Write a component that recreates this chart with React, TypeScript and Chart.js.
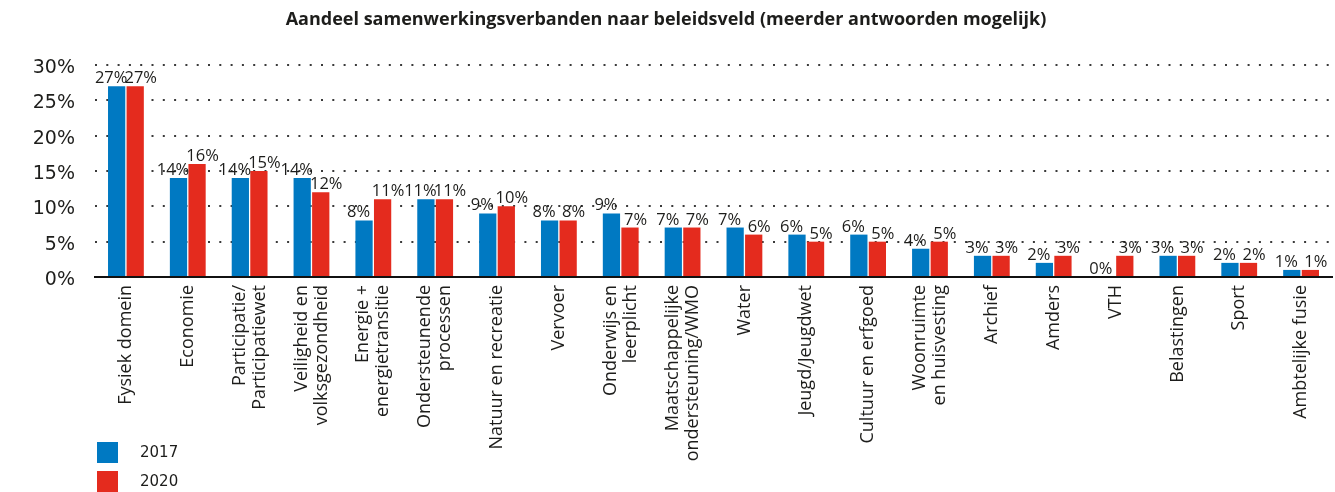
import { useEffect, useRef } from "react";
import { Chart, registerables } from "chart.js";

Chart.register(...registerables);

const title = "Aandeel samenwerkingsverbanden naar beleidsveld (meerder antwoorden mogelijk)";

const categories: string[][] = [
  ["Fysiek domein"],
  ["Economie"],
  ["Participatie/", "Participatiewet"],
  ["Veiligheid en", "volksgezondheid"],
  ["Energie +", "energietransitie"],
  ["Ondersteunende", "processen"],
  ["Natuur en recreatie"],
  ["Vervoer"],
  ["Onderwijs en", "leerplicht"],
  ["Maatschappelijke", "ondersteuning/WMO"],
  ["Water"],
  ["Jeugd/Jeugdwet"],
  ["Cultuur en erfgoed"],
  ["Woonruimte", "en huisvesting"],
  ["Archief"],
  ["Amders"],
  ["VTH"],
  ["Belastingen"],
  ["Sport"],
  ["Ambtelijke fusie"],
];

const seriesNames = ["2017", "2020"];
const values2017 = [27, 14, 14, 14, 8, 11, 9, 8, 9, 7, 7, 6, 6, 4, 3, 2, 0, 3, 2, 1];
const values2020 = [27, 16, 15, 12, 11, 11, 10, 8, 7, 7, 6, 5, 5, 5, 3, 3, 3, 3, 2, 1];
const yTicks = [0, 5, 10, 15, 20, 25, 30];

const BLUE = "#0079C2";
const RED = "#E42B1E";
const TEXT = "#1d1d1b";

// Rotated, multi-line category labels centred on each tick
const categoryLabels = {
  id: "categoryLabels",
  afterDraw(chart: any) {
    const { ctx, scales } = chart;
    const x = scales.x;
    const top = chart.chartArea.bottom + 8;
    const lineHeight = 20;
    ctx.save();
    ctx.fillStyle = TEXT;
    ctx.font = "18px 'Open Sans'";
    ctx.textAlign = "right";
    ctx.textBaseline = "middle";
    (chart.data.labels as string[][]).forEach((lines, i) => {
      const px = x.getPixelForValue(i);
      lines.forEach((line, j) => {
        const cx = px + (j - (lines.length - 1) / 2) * lineHeight;
        ctx.save();
        ctx.translate(cx, top);
        ctx.rotate(-Math.PI / 2);
        ctx.fillText(line, 0, 0);
        ctx.restore();
      });
    });
    ctx.restore();
  },
};

// Percentage labels above each bar
const valueLabels = {
  id: "valueLabels",
  afterDatasetsDraw(chart: any) {
    const { ctx } = chart;
    ctx.save();
    ctx.fillStyle = TEXT;
    ctx.font = "16.5px 'Open Sans'";
    ctx.textAlign = "center";
    ctx.textBaseline = "alphabetic";
    chart.data.datasets.forEach((ds: any, d: number) => {
      const meta = chart.getDatasetMeta(d);
      const shift = d === 0 ? -5.5 : 5.5;
      meta.data.forEach((bar: any, i: number) => {
        ctx.fillText(`${ds.data[i]}%`, bar.x + shift, bar.y - 3);
      });
    });
    ctx.restore();
  },
};

// Vertical legend in the bottom-left corner
const stackedLegend = {
  id: "stackedLegend",
  afterDraw(chart: any) {
    const { ctx } = chart;
    ctx.save();
    ctx.font = "15px 'DejaVu Sans'";
    ctx.textAlign = "left";
    ctx.textBaseline = "middle";
    chart.data.datasets.forEach((ds: any, d: number) => {
      const y = 442 + d * 29;
      ctx.fillStyle = ds.backgroundColor;
      ctx.fillRect(97, y, 21, 21);
      ctx.fillStyle = TEXT;
      ctx.fillText(ds.label, 140, y + 11);
    });
    ctx.restore();
  },
};

export default function App() {
  const canvasRef = useRef<HTMLCanvasElement | null>(null);

  useEffect(() => {
    document.body.style.margin = "0";
    const canvas = canvasRef.current;
    if (!canvas) return;
    const chart = new Chart(canvas, {
      type: "bar",
      data: {
        labels: categories as any,
        datasets: [
          {
            label: seriesNames[0],
            data: values2017,
            backgroundColor: BLUE,
            categoryPercentage: 0.6,
            barPercentage: 0.93,
          },
          {
            label: seriesNames[1],
            data: values2020,
            backgroundColor: RED,
            categoryPercentage: 0.6,
            barPercentage: 0.93,
          },
        ],
      },
      options: {
        responsive: false,
        animation: false,
        layout: { padding: { left: 0, right: 3, top: 0, bottom: 0 } },
        plugins: {
          legend: { display: false },
          tooltip: { enabled: false },
          title: {
            display: true,
            text: title,
            color: TEXT,
            font: { family: "'Open Sans'", size: 18, weight: "bold" },
            lineHeight: 1.2,
            padding: { top: 9, bottom: 34.4 },
          },
        },
        scales: {
          x: {
            grid: { display: false },
            border: { display: true, color: "#111", width: 2 },
            ticks: { display: false },
            afterFit(scale: any) {
              scale.height = 215;
            },
          },
          y: {
            min: 0,
            max: 30,
            afterBuildTicks(scale: any) {
              scale.ticks = yTicks.map((v) => ({ value: v }));
            },
            afterFit(scale: any) {
              scale.width = 95;
            },
            border: { display: false, dash: [2, 9.3] },
            grid: {
              color: "#3a3a3a",
              lineWidth: 2,
              drawTicks: false,
            },
            ticks: {
              padding: 20,
              labelOffset: 3,
              color: TEXT,
              font: { family: "'DejaVu Sans'", size: 19 },
              callback: (v: any) => `${v}%`,
            },
          },
        },
      },
      plugins: [categoryLabels, valueLabels, stackedLegend],
    } as any);
    return () => chart.destroy();
  }, []);

  return (
    <div style={{ width: 1335, height: 492 }}>
      <canvas ref={canvasRef} width={1335} height={492} />
    </div>
  );
}
